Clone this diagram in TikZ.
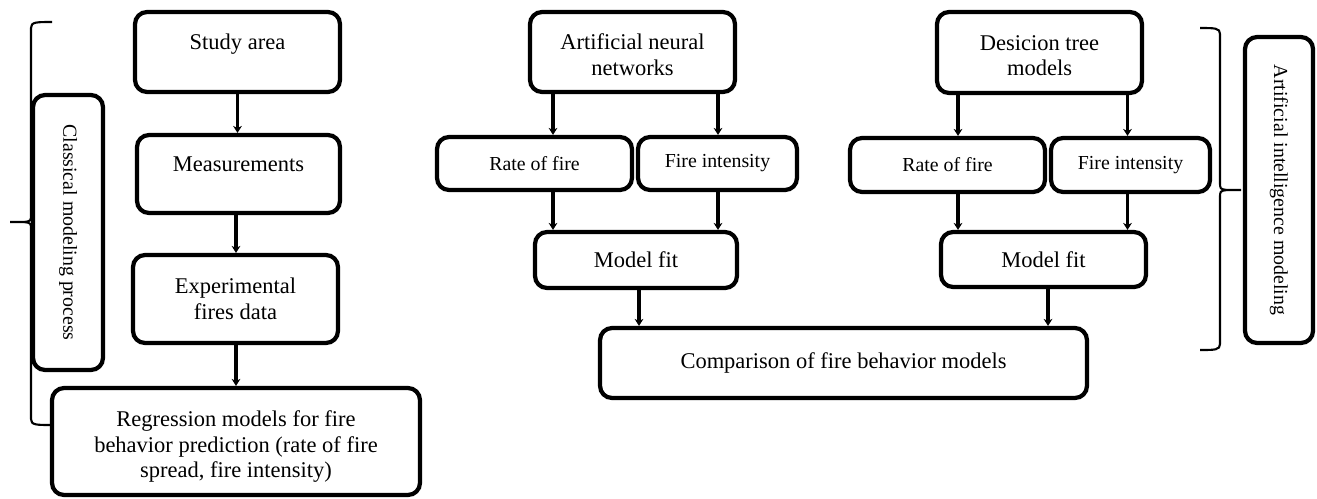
\documentclass[tikz,border=0pt]{standalone}
\usepackage{fontspec}
\setmainfont{Liberation Serif}
\usetikzlibrary{arrows.meta}
\begin{document}
\begin{tikzpicture}[x=0.02cm,y=-0.02cm,
  flowbox/.style={draw, line width=2.4pt, rounded corners=0.24cm, align=center,
    inner sep=0pt, font=\fontsize{12.8}{14.6}\selectfont},
  smallbox/.style={flowbox, font=\fontsize{11.3}{13}\selectfont},
  sidebox/.style={flowbox, rotate=-90, font=\fontsize{11.3}{13}\selectfont},
  arr/.style={line width=1.8pt, -{Stealth[length=4pt,width=5pt]}},
  bracket/.style={line width=1.2pt}]
\useasboundingbox[fill=white] (0,0) rectangle (1317,498);

% classical modelling branch
\node[flowbox, minimum width=4.10cm, minimum height=1.60cm, text depth=12pt] (study) at (237.5,52) {Study area};
\node[flowbox, minimum width=4.06cm, minimum height=1.56cm, text depth=11pt] (meas) at (238.5,174) {Measurements};
\node[flowbox, minimum width=4.10cm, minimum height=1.76cm] (expt) at (235.5,299) {Experimental\\fires data};
\node[flowbox, minimum width=7.36cm, minimum height=2.14cm] (regr) at (236,441.5) {\rule{0pt}{15pt}Regression models for fire\\behavior prediction (rate of fire\\spread, fire intensity)};
\node[sidebox, minimum width=5.50cm, minimum height=1.40cm] (classic) at (68,232.5) {Classical modeling process};

% artificial neural networks branch
\node[flowbox, minimum width=4.10cm, minimum height=1.60cm] (ann) at (632.5,52) {\rule{0pt}{12pt}Artificial neural\\networks};
\node[smallbox, minimum width=3.90cm, minimum height=1.06cm] (rate1) at (534.5,163.5) {Rate of fire};
\node[smallbox, minimum width=3.18cm, minimum height=1.06cm] (int1) at (717.5,163.5) {Fire intensity};
\node[flowbox, minimum width=4.04cm, minimum height=1.12cm] (fit1) at (636,260) {Model fit};

% decision tree branch
\node[flowbox, minimum width=4.10cm, minimum height=1.62cm] (dt) at (1039.5,52.5) {\rule{0pt}{12pt}Desicion tree\\models};
\node[smallbox, minimum width=3.90cm, minimum height=1.08cm] (rate2) at (947.5,165) {Rate of fire};
\node[smallbox, minimum width=3.18cm, minimum height=1.08cm] (int2) at (1130.5,165) {Fire intensity};
\node[flowbox, minimum width=4.10cm, minimum height=1.10cm] (fit2) at (1043.5,259.5) {Model fit};

\node[flowbox, minimum width=9.74cm, minimum height=1.40cm] (comp) at (843.5,363) {Comparison of fire behavior models};
\node[sidebox, minimum width=6.12cm, minimum height=1.36cm] (aimod) at (1279,190) {Artificial intelligence modeling};

% arrow columns
\coordinate (xa) at (553,0);
\coordinate (xb) at (718,0);
\coordinate (xc) at (639,0);
\coordinate (xd) at (958,0);
\coordinate (xe) at (1127.5,0);
\coordinate (xf) at (1048,0);
\coordinate (xg) at (236,0);

\draw[arr] (study.south) -- (study.south |- meas.north);
\draw[arr] (xg |- meas.south) -- (xg |- expt.north);
\draw[arr] (xg |- expt.south) -- (xg |- regr.north);

\draw[arr] (xa |- ann.south) -- (xa |- rate1.north);
\draw[arr] (xb |- ann.south) -- (xb |- int1.north);
\draw[arr] (xa |- rate1.south) -- (xa |- fit1.north);
\draw[arr] (xb |- int1.south) -- (xb |- fit1.north);
\draw[arr] (xc |- fit1.south) -- (xc |- comp.north);

\draw[arr] (xd |- dt.south) -- (xd |- rate2.north);
\draw[arr] (xe |- dt.south) -- (xe |- int2.north);
\draw[arr] (xd |- rate2.south) -- (xd |- fit2.north);
\draw[arr] (xe |- int2.south) -- (xe |- fit2.north);
\draw[arr] (xf |- fit2.south) -- (xf |- comp.north);

% grouping braces
\draw[bracket] (52,22) .. controls (36,22) and (31,22) .. (31,28) -- (31,214)
  .. controls (31,221) .. (24,222) -- (10,222);
\draw[bracket] (24,222) .. controls (31,223) .. (31,230) -- (31,419)
  .. controls (31,425) and (36,425) .. (52,425);
\draw[bracket] (1200,28) .. controls (1215,28) and (1220,28) .. (1220,34) -- (1220,182)
  .. controls (1220,189) .. (1227,190) -- (1241,190);
\draw[bracket] (1227,190) .. controls (1220,191) .. (1220,198) -- (1220,344)
  .. controls (1220,350) and (1215,350) .. (1200,350);
\end{tikzpicture}
\end{document}
